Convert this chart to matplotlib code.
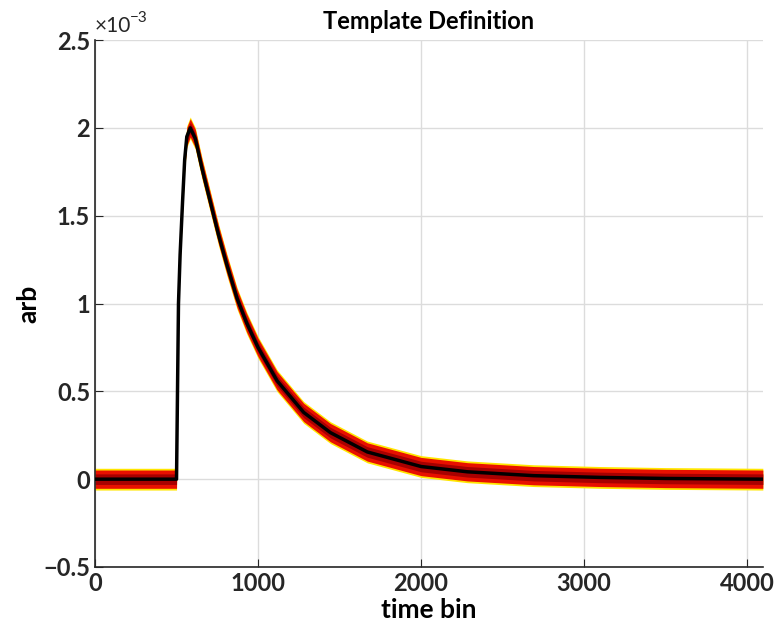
import matplotlib
matplotlib.use("Agg")
import matplotlib.pyplot as plt
import numpy as np
from matplotlib.ticker import FuncFormatter

# Template, x in time bins, y in arb units (x1e-3)
time_bins = [0, 300, 500, 506, 512, 522, 537, 550, 563, 584, 615, 656, 707,
             758, 809, 871, 930, 1000, 1117, 1280, 1444, 1588, 1670, 2000,
             2284, 2690, 3100, 3500, 4096]
template_e3 = [0.0, 0.0, 0.0, 0.5, 1.0, 1.28, 1.58, 1.82, 1.95, 2.0, 1.94,
               1.77, 1.58, 1.39, 1.22, 1.03, 0.89, 0.75, 0.56, 0.38, 0.265,
               0.195, 0.155, 0.072, 0.042, 0.02, 0.01, 0.004, 0.0]
# Approximate spread of the noisy pulse traces around the template (x1e-3)
noise_spread_e3 = [0.062, 0.052, 0.03]
trace_colors = ["#ffe600", "#e81000", "#a80000"]

x_ticks = [0, 1000, 2000, 3000, 4000]
y_ticks_e3 = [-0.5, 0, 0.5, 1, 1.5, 2, 2.5]

plt.rcParams['font.family'] = ['Lato', 'DejaVu Sans']
plt.rcParams['font.weight'] = 'bold'

fig = plt.figure(figsize=(7.8, 6.36), dpi=100)
ax = fig.add_axes([0.1218, 0.1085, 0.978 - 0.1218, 0.937 - 0.1085])

xs = np.array(time_bins, dtype=float)
ys = np.array(template_e3) * 1e-3
for spread, col in zip(noise_spread_e3, trace_colors):
    ax.fill_between(xs, ys - spread * 1e-3, ys + spread * 1e-3, color=col,
                    lw=0, zorder=2)
ax.plot(xs, ys, color="black", lw=2.5, zorder=3, solid_joinstyle="round")

ax.set_xlim(0, 4096)
ax.set_ylim(-0.5e-3, 2.5e-3)
ax.set_xticks(x_ticks)
ax.set_yticks([v * 1e-3 for v in y_ticks_e3])
ax.yaxis.set_major_formatter(
    FuncFormatter(lambda v, p: ('%g' % round(v * 1e3, 3)).replace('-', '\u2212')))
# exponent label
ax.text(0.0, 1.008, "\u00d710", transform=ax.transAxes,
        fontsize=15, fontweight="normal", color="#262626", ha="left", va="bottom")
ax.text(0.052, 1.028, "\u22123", transform=ax.transAxes,
        fontsize=11, fontweight="normal", color="#262626", ha="left", va="bottom")

ax.grid(True, color="#dcdcdc", lw=1)
ax.set_axisbelow(True)
for s in ["top", "right"]:
    ax.spines[s].set_visible(False)
for s in ["left", "bottom"]:
    ax.spines[s].set_color("#262626")
    ax.spines[s].set_linewidth(1.2)
ax.tick_params(direction="in", length=6, labelsize=17, colors="#262626")

ax.set_title("Template Definition", fontsize=17, fontweight="bold", pad=8)
ax.set_xlabel("time bin", fontsize=19, fontweight="bold", labelpad=2)
ax.set_ylabel("arb", fontsize=19, fontweight="bold", labelpad=2)

fig.savefig("out.png", dpi=100)
